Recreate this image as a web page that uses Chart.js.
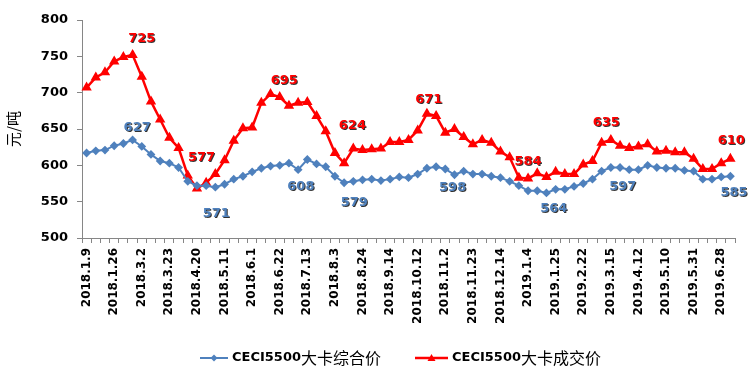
<!DOCTYPE html>
<html>
<head>
<meta charset="utf-8">
<script src="https://cdn.jsdelivr.net/npm/chart.js@4"></script>
<style>
html, body { margin: 0; padding: 0; background: #fff; }
</style>
</head>
<body>
<canvas id="chart" width="755" height="382"></canvas>
<script>
// weekly dates, only every 3rd one is shown on the axis
const dates = [
    '2018.1.9', '2018.1.12', '2018.1.19', '2018.1.26', '2018.2.2', '2018.2.9',
    '2018.3.2', '2018.3.9', '2018.3.16', '2018.3.23', '2018.3.30', '2018.4.13',
    '2018.4.20', '2018.4.27', '2018.5.4', '2018.5.11', '2018.5.18', '2018.5.25',
    '2018.6.1', '2018.6.8', '2018.6.15', '2018.6.22', '2018.6.29', '2018.7.6',
    '2018.7.13', '2018.7.20', '2018.7.27', '2018.8.3', '2018.8.10', '2018.8.17',
    '2018.8.24', '2018.8.31', '2018.9.7', '2018.9.14', '2018.9.21', '2018.9.28',
    '2018.10.12', '2018.10.19', '2018.10.26', '2018.11.2', '2018.11.9', '2018.11.16',
    '2018.11.23', '2018.11.30', '2018.12.7', '2018.12.14', '2018.12.21', '2018.12.28',
    '2019.1.4', '2019.1.11', '2019.1.18', '2019.1.25', '2019.2.1', '2019.2.15',
    '2019.2.22', '2019.3.1', '2019.3.8', '2019.3.15', '2019.3.22', '2019.3.29',
    '2019.4.12', '2019.4.19', '2019.4.26', '2019.5.10', '2019.5.17', '2019.5.24',
    '2019.5.31', '2019.6.14', '2019.6.21', '2019.6.28', '2019.7.5'
];

// CECI5500大卡综合价
const compositePrice = [
    617, 620, 621, 627, 630, 635, 626, 615, 606, 603, 597, 578,
    572, 572, 570, 574, 581, 585, 591, 596, 599, 600, 603, 594,
    608, 602, 598, 585, 576, 578, 580, 581, 579, 581, 584, 583,
    588, 596, 598, 595, 587, 592, 588, 588, 585, 583, 578, 572,
    565, 565, 562, 567, 567, 571, 575, 581, 592, 597, 597, 594,
    594, 600, 597, 596, 596, 593, 592, 581, 581, 584, 585
];

// CECI5500大卡成交价
const dealPrice = [
    707, 721, 728, 743, 749, 752, 722, 688, 663, 638, 624, 586,
    568, 576, 588, 607, 634, 651, 652, 686, 698, 694, 682, 686,
    687, 668, 647, 617, 603, 623, 621, 622, 623, 632, 632, 635,
    648, 671, 668, 645, 650, 639, 629, 635, 631, 619, 611, 583,
    582, 589, 584, 591, 588, 588, 601, 606, 631, 635, 627, 624,
    626, 629, 619, 620, 618, 618, 609, 595, 595, 603, 609
];

const seriesNames = ['CECI5500大卡综合价', 'CECI5500大卡成交价'];
const seriesColors = ['#4F81BD', '#FF0000'];

// value notes as they appear on the chart (series 0 = blue, 1 = red)
const noteText   = ['725', '627', '577', '571', '695', '608', '624', '579', '671', '598', '584', '564', '635', '597', '610', '585'];
const noteSeries = [1, 0, 1, 0, 1, 0, 1, 0, 1, 0, 1, 0, 1, 0, 1, 0];
const noteIndex  = [6, 5.5, 12.5, 14.1, 21.5, 23.3, 28.9, 29.1, 37.2, 39.8, 48, 50.8, 56.5, 58.3, 70.1, 70.4];
const noteValue  = [774, 652, 610, 533, 717, 571, 655, 549, 691, 569.5, 605, 541, 659, 571, 633.5, 562];

Chart.defaults.font.family = 'DejaVu Sans';
Chart.defaults.color = '#000';

const notesPlugin = {
    id: 'notes',
    afterDatasetsDraw(chart) {
        const ctx = chart.ctx;
        const xs = chart.scales.x, ys = chart.scales.y;
        ctx.save();
        ctx.font = 'bold 13px "DejaVu Sans"';
        ctx.textAlign = 'center';
        ctx.textBaseline = 'middle';
        ctx.shadowColor = 'rgba(0,0,0,0.8)';
        ctx.shadowOffsetX = 1;
        ctx.shadowOffsetY = 1;
        ctx.shadowBlur = 0;
        noteText.forEach(function(t, i) {
            ctx.fillStyle = seriesColors[noteSeries[i]];
            ctx.fillText(t, xs.getPixelForValue(noteIndex[i]), ys.getPixelForValue(noteValue[i]));
        });
        ctx.restore();
    }
};

const legendPlugin = {
    id: 'bottomLegend',
    afterDraw(chart) {
        const ctx = chart.ctx;
        const y = 358;
        const starts = [200, 415];
        const lineLen = [28, 33];
        ctx.save();
        seriesNames.forEach(function(name, i) {
            const x0 = starts[i];
            ctx.strokeStyle = seriesColors[i];
            ctx.lineWidth = i == 0 ? 2 : 2.5;
            ctx.beginPath();
            ctx.moveTo(x0, y);
            ctx.lineTo(x0 + lineLen[i], y);
            ctx.stroke();
            ctx.fillStyle = seriesColors[i];
            const mx = x0 + lineLen[i] / 2;
            ctx.beginPath();
            if (i == 0) {
                ctx.moveTo(mx, y - 3.5); ctx.lineTo(mx + 3.5, y); ctx.lineTo(mx, y + 3.5); ctx.lineTo(mx - 3.5, y);
            } else {
                ctx.moveTo(mx, y - 4); ctx.lineTo(mx + 4, y + 3); ctx.lineTo(mx - 4, y + 3);
            }
            ctx.closePath();
            ctx.fill();
            // latin part bold, chinese part regular
            let tx = x0 + lineLen[i] + 4;
            ctx.fillStyle = '#000';
            ctx.textBaseline = 'middle';
            ctx.textAlign = 'left';
            ctx.font = 'bold 13px "DejaVu Sans"';
            ctx.fillText('CECI5500', tx, y);
            tx += ctx.measureText('CECI5500').width;
            ctx.font = '16px "Noto Sans CJK SC"';
            ctx.fillText(name.slice(8), tx, y);
        });
        ctx.restore();
    }
};

new Chart(document.getElementById('chart'), {
    type: 'line',
    data: {
        labels: dates,
        datasets: [
            {
                label: seriesNames[0],
                data: compositePrice,
                borderColor: seriesColors[0],
                backgroundColor: seriesColors[0],
                borderWidth: 2,
                pointStyle: 'rectRot',
                pointRadius: 3,
                tension: 0
            },
            {
                label: seriesNames[1],
                data: dealPrice,
                borderColor: seriesColors[1],
                backgroundColor: seriesColors[1],
                borderWidth: 2.5,
                pointStyle: 'triangle',
                pointRadius: 3.5,
                tension: 0
            }
        ]
    },
    options: {
        responsive: false,
        animation: false,
        layout: { padding: { top: 20, right: 20, left: 0, bottom: 0 } },
        plugins: {
            legend: { display: false },
            tooltip: { enabled: false }
        },
        scales: {
            x: {
                offset: true,
                grid: { offset: true, drawOnChartArea: false, drawTicks: true, tickLength: 5, color: '#868686' },
                border: { color: '#868686', width: 1 },
                ticks: {
                    autoSkip: false,
                    minRotation: 90,
                    maxRotation: 90,
                    padding: 5,
                    font: { size: 12, weight: 'bold' },
                    callback: function(v, i) { return i % 3 == 0 ? dates[i] : ''; }
                },
                afterFit: function(scale) { scale.height = 144; }
            },
            y: {
                min: 500,
                max: 800,
                grid: { drawOnChartArea: false, drawTicks: true, tickLength: 5, color: '#868686' },
                border: { color: '#868686', width: 1 },
                ticks: {
                    stepSize: 50,
                    padding: 9,
                    font: { size: 13, weight: 'bold' }
                },
                title: {
                    display: true,
                    text: '元/吨',
                    font: { size: 15, family: 'Noto Sans CJK SC' },
                    padding: { top: 4, bottom: 0 }
                },
                afterFit: function(scale) { scale.width = 82; }
            }
        }
    },
    plugins: [notesPlugin, legendPlugin]
});
</script>
</body>
</html>
